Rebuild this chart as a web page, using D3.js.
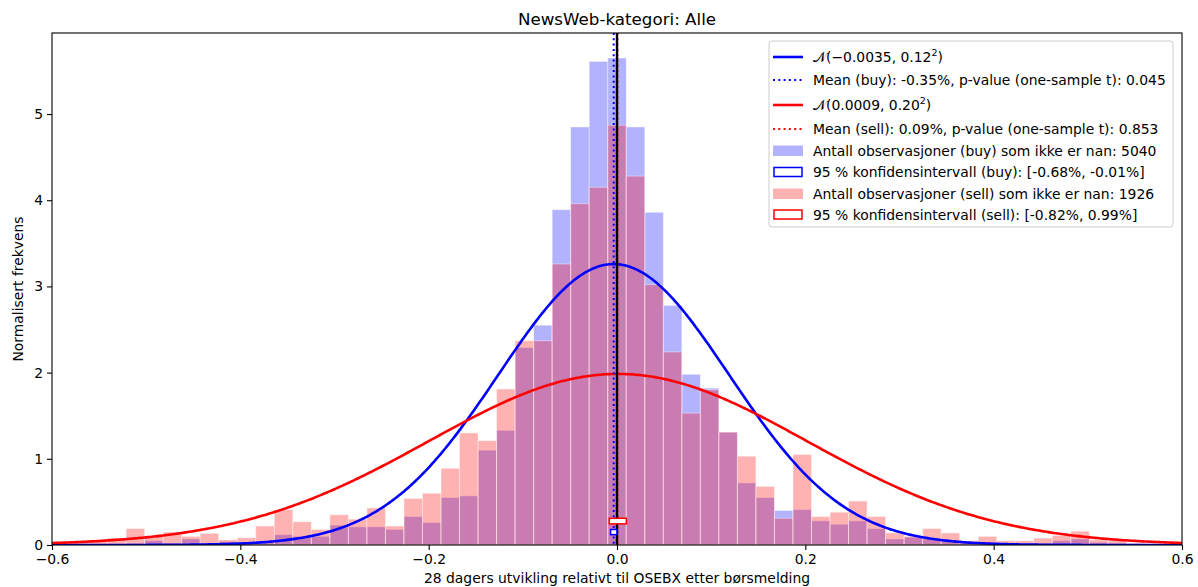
<!DOCTYPE html>
<html>
<head>
<meta charset="utf-8">
<script src="https://cdn.jsdelivr.net/npm/d3@7"></script>
<style>
    body { margin: 0; background: #fff; }
    svg text { font-family: "DejaVu Sans", sans-serif; }
</style>
</head>
<body>
<div id="chart"></div>
<script>
'use strict';

// histogram bins: np.linspace(-0.6, 0.6, 62) -> 61 bins
var BIN_LO = -0.6;
var BIN_HI = 0.6;
var BIN_COUNT = 61;

// normalised frequency per bin, left to right
var buyDensity = [
    0.00, 0.00, 0.01, 0.01, 0.02, 0.05, 0.02, 0.07, 0.02, 0.04,
    0.03, 0.03, 0.12, 0.10, 0.10, 0.23, 0.21, 0.21, 0.18, 0.33,
    0.26, 0.55, 0.57, 1.10, 1.33, 2.29, 2.55, 3.89, 4.85, 5.61,
    5.65, 4.85, 3.86, 2.78, 1.98, 1.82, 1.31, 0.72, 0.55, 0.40,
    0.41, 0.28, 0.24, 0.28, 0.19, 0.07, 0.09, 0.07, 0.05, 0.03,
    0.03, 0.02, 0.01, 0.02, 0.05, 0.07, 0.03, 0.02, 0.01, 0.00,
    0.00
];
var sellDensity = [
    0.02, 0.03, 0.05, 0.08, 0.19, 0.10, 0.15, 0.10, 0.135, 0.06,
    0.085, 0.22, 0.41, 0.27, 0.18, 0.35, 0.30, 0.43, 0.22, 0.54,
    0.60, 0.89, 1.30, 1.21, 1.81, 2.37, 2.37, 3.26, 3.96, 4.15,
    4.87, 4.28, 3.02, 2.24, 1.53, 1.80, 1.31, 1.03, 0.68, 0.31,
    1.05, 0.33, 0.38, 0.51, 0.33, 0.14, 0.10, 0.19, 0.14, 0.05,
    0.10, 0.05, 0.05, 0.08, 0.11, 0.16, 0.06, 0.05, 0.02, 0.01,
    0.01
];

// fitted normals (mean, std)
var buyFit = [-0.0035, 0.1224];
var sellFit = [0.0009, 0.201];

// 95 % confidence intervals and the height band their boxes are drawn in
var buyCI = [-0.0068, -0.0001];
var sellCI = [-0.0082, 0.0099];
var buyCIBand = [0.12, 0.18];
var sellCIBand = [0.245, 0.31];

var xTicks = [-0.6, -0.4, -0.2, 0.0, 0.2, 0.4, 0.6];
var yTicks = [0, 1, 2, 3, 4, 5];

var legendLabels = [
    { kind: "line", color: "#0000ff", main: "\ud835\udca9(\u22120.0035, 0.12", sup: "2", tail: ")" },
    { kind: "dot", color: "#0000ff", main: "Mean (buy): -0.35%, p-value (one-sample t): 0.045" },
    { kind: "line", color: "#ff0000", main: "\ud835\udca9(0.0009, 0.20", sup: "2", tail: ")" },
    { kind: "dot", color: "#ff0000", main: "Mean (sell): 0.09%, p-value (one-sample t): 0.853" },
    { kind: "fill", color: "#0000ff", main: "Antall observasjoner (buy) som ikke er nan: 5040" },
    { kind: "box", color: "#0000ff", main: "95 % konfidensintervall (buy): [-0.68%, -0.01%]" },
    { kind: "fill", color: "#ff0000", main: "Antall observasjoner (sell) som ikke er nan: 1926" },
    { kind: "box", color: "#ff0000", main: "95 % konfidensintervall (sell): [-0.82%, 0.99%]" }
];

var WIDTH = 1198;
var HEIGHT = 587;
var margin = { top: 33, right: 16, bottom: 42, left: 52 };
var plotW = WIDTH - margin.left - margin.right;
var plotH = HEIGHT - margin.top - margin.bottom;

var svg = d3.select("#chart").append("svg")
    .attr("width", WIDTH)
    .attr("height", HEIGHT);

var x = d3.scaleLinear().domain([-0.6, 0.6]).range([0, plotW]);
var y = d3.scaleLinear().domain([0, 5.94]).range([plotH, 0]);

var g = svg.append("g")
    .attr("transform", "translate(" + margin.left + "," + margin.top + ")");

g.append("clipPath").attr("id", "plotclip")
    .append("rect").attr("width", plotW).attr("height", plotH);

var plot = g.append("g").attr("clip-path", "url(#plotclip)");

function binEdges() {
    var step = (BIN_HI - BIN_LO) / BIN_COUNT;
    return d3.range(BIN_COUNT).map(function (i) {
        return [BIN_LO + i * step, BIN_LO + (i + 1) * step];
    });
}
var edges = binEdges();

function drawHist(values, color) {
    plot.append("g").selectAll("rect")
        .data(values)
        .enter().append("rect")
        .attr("x", function (d, i) { return x(edges[i][0]); })
        .attr("width", function (d, i) { return x(edges[i][1]) - x(edges[i][0]); })
        .attr("y", function (d) { return y(d); })
        .attr("height", function (d) { return y(0) - y(d); })
        .attr("fill", color)
        .attr("fill-opacity", 0.3)
        .attr("stroke", "#fff")
        .attr("stroke-opacity", 0.4)
        .attr("stroke-width", 1);
}

drawHist(buyDensity, "#0000ff");
drawHist(sellDensity, "#ff0000");

function normalPdf(v, fit) {
    var z = (v - fit[0]) / fit[1];
    return Math.exp(-0.5 * z * z) / (fit[1] * Math.sqrt(2 * Math.PI));
}

function drawFit(fit, color) {
    var xs = d3.range(-0.6, 0.6001, 0.002);
    var line = d3.line()
        .x(function (v) { return x(v); })
        .y(function (v) { return y(normalPdf(v, fit)); });
    plot.append("path")
        .datum(xs)
        .attr("d", line)
        .attr("fill", "none")
        .attr("stroke", color)
        .attr("stroke-width", 2.6);
}

drawFit(buyFit, "#0000ff");
drawFit(sellFit, "#ff0000");

function drawMean(fit, color, w) {
    plot.append("line")
        .attr("x1", x(fit[0])).attr("x2", x(fit[0]))
        .attr("y1", 0).attr("y2", plotH)
        .attr("stroke", color)
        .attr("stroke-width", w)
        .attr("stroke-dasharray", "2,3.3");
}

drawMean(buyFit, "#0000ff", 2);
drawMean(sellFit, "#ff0000", 1.2);

// zero line
plot.append("line")
    .attr("x1", x(0)).attr("x2", x(0))
    .attr("y1", 0).attr("y2", plotH)
    .attr("stroke", "#000")
    .attr("stroke-width", 2.4);

function drawCI(ci, band, color) {
    plot.append("rect")
        .attr("x", x(ci[0]))
        .attr("width", x(ci[1]) - x(ci[0]))
        .attr("y", y(band[1]))
        .attr("height", y(band[0]) - y(band[1]))
        .attr("fill", "#fff")
        .attr("stroke", color)
        .attr("stroke-width", 1.5);
}

drawCI(buyCI, buyCIBand, "#0000ff");
drawCI(sellCI, sellCIBand, "#ff0000");

// axes
var xAxis = d3.axisBottom(x).tickValues(xTicks).tickSize(5).tickPadding(4)
    .tickFormat(function (d) { return d3.format(".1f")(d).replace("-", "\u2212"); });
var yAxis = d3.axisLeft(y).tickValues(yTicks).tickSize(5).tickPadding(4)
    .tickFormat(d3.format("d"));

var gx = g.append("g").attr("transform", "translate(0," + plotH + ")").call(xAxis);
var gy = g.append("g").call(yAxis);

[gx, gy].forEach(function (ax) {
    ax.select(".domain").remove();
    ax.selectAll("line").attr("stroke", "#000").attr("stroke-width", 1.1);
    ax.selectAll("text")
        .attr("font-size", "13.9px")
        .attr("fill", "#000")
        .style("font-family", "DejaVu Sans");
});

// spines
g.append("rect")
    .attr("width", plotW).attr("height", plotH)
    .attr("fill", "none")
    .attr("stroke", "#000")
    .attr("stroke-width", 1.1);

// title and axis labels
svg.append("text")
    .attr("x", margin.left + plotW / 2).attr("y", 25)
    .attr("text-anchor", "middle")
    .attr("font-size", "16.7px")
    .text("NewsWeb-kategori: Alle");

svg.append("text")
    .attr("x", margin.left + plotW / 2).attr("y", 583)
    .attr("text-anchor", "middle")
    .attr("font-size", "13.9px")
    .text("28 dagers utvikling relativt til OSEBX etter børsmelding");

svg.append("text")
    .attr("transform", "translate(23," + (margin.top + plotH / 2) + ") rotate(-90)")
    .attr("text-anchor", "middle")
    .attr("font-size", "13.9px")
    .text("Normalisert frekvens");

// legend
var legend = svg.append("g").attr("transform", "translate(769,41)");
legend.append("rect")
    .attr("width", 404).attr("height", 186)
    .attr("rx", 3)
    .attr("fill", "#fff").attr("fill-opacity", 0.8)
    .attr("stroke", "#ccc");

var rowY = [16, 39, 64, 88, 109.5, 131, 152.5, 173.5];

legendLabels.forEach(function (item, i) {
    var row = legend.append("g").attr("transform", "translate(0," + rowY[i] + ")");
    if (item.kind === "line" || item.kind === "dot") {
        var ln = row.append("line")
            .attr("x1", 4).attr("x2", 34).attr("y1", 0).attr("y2", 0)
            .attr("stroke", item.color);
        if (item.kind === "line") {
            ln.attr("stroke-width", 2.6);
        } else {
            ln.attr("stroke-width", 2).attr("stroke-dasharray", "2,3.3");
        }
    } else if (item.kind === "fill") {
        row.append("rect")
            .attr("x", 4).attr("y", -5).attr("width", 30).attr("height", 10.5)
            .attr("fill", item.color).attr("fill-opacity", 0.3);
    } else {
        row.append("rect")
            .attr("x", 5).attr("y", -4.5).attr("width", 28).attr("height", 9)
            .attr("fill", "#fff")
            .attr("stroke", item.color).attr("stroke-width", 1.5);
    }
    var t = row.append("text")
        .attr("x", 44).attr("y", 5)
        .attr("font-size", "13.9px")
        .text(item.main);
    if (item.sup) {
        t.append("tspan").attr("dy", -6).attr("font-size", "9.5px").text(item.sup);
        t.append("tspan").attr("dy", 6).text(item.tail);
    }
});
</script>
</body>
</html>
